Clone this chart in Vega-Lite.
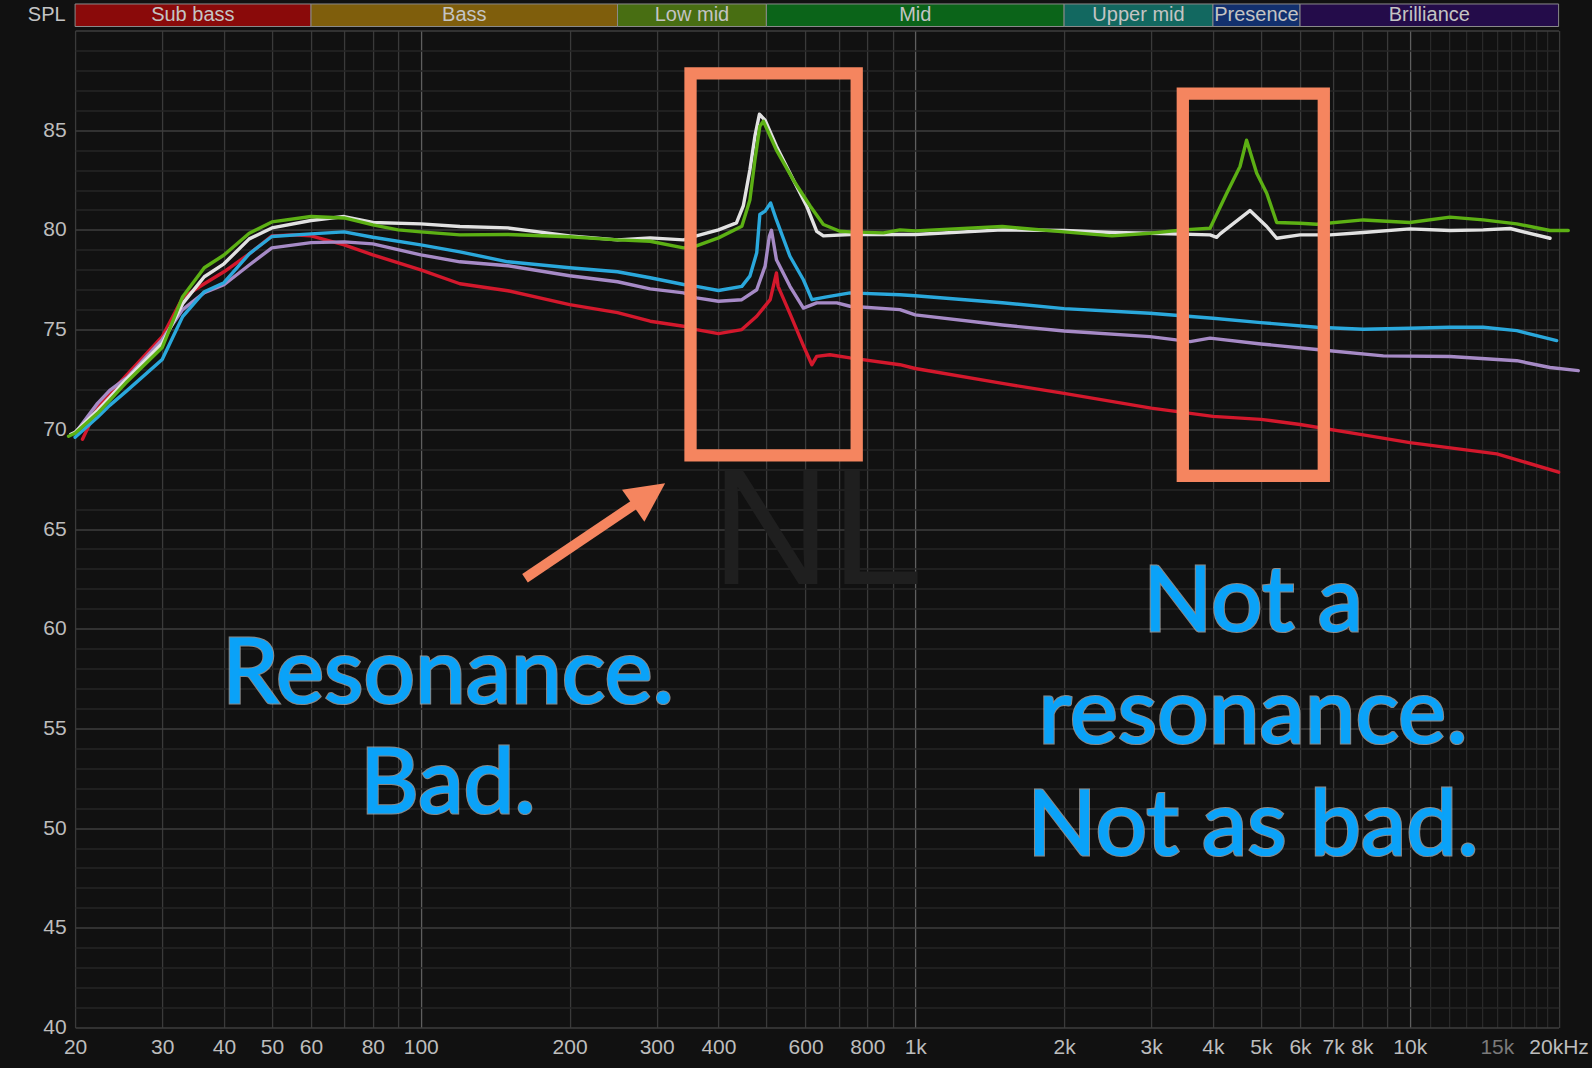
{
  "$schema": "https://vega.github.io/schema/vega-lite/v6.json",
  "width": 1483.5,
  "height": 997,
  "autosize": {"type": "none"},
  "padding": {"left": 75.1, "top": 30.5, "right": 33.4, "bottom": 40.5},
  "background": "#111111",
  "config": {
    "view": {"stroke": null, "fill": "#111111"},
    "text": {"font": "Liberation Sans"}
  },
  "datasets": {
    "one": [{}],
    "bands": [
      {"band": "Sub bass", "lo": 20, "hi": 60, "mid": 34.6},
      {"band": "Bass", "lo": 60, "hi": 250, "mid": 122.5},
      {"band": "Low mid", "lo": 250, "hi": 500, "mid": 353.6},
      {"band": "Mid", "lo": 500, "hi": 2000, "mid": 1000},
      {"band": "Upper mid", "lo": 2000, "hi": 4000, "mid": 2828},
      {"band": "Presence", "lo": 4000, "hi": 6000, "mid": 4899},
      {"band": "Brilliance", "lo": 6000, "hi": 20000, "mid": 10954}
    ],
    "notes": [
      {"label": "Resonance.", "freq": 113.5, "spl": 56.27},
      {"label": "Bad.", "freq": 113.5, "spl": 50.76},
      {"label": "Not a", "freq": 4820, "spl": 59.88},
      {"label": "resonance.", "freq": 4820, "spl": 54.27},
      {"label": "Not as bad.", "freq": 4820, "spl": 48.65}
    ],
    "curves": [
      {"s":"red","f":20.7,"v":69.5},{"s":"red","f":22.2,"v":71.1},{"s":"red","f":23.5,"v":71.8},{"s":"red","f":25.5,"v":72.75},{"s":"red","f":30,"v":74.64},{"s":"red","f":33,"v":76.6},{"s":"red","f":36.5,"v":77.3},{"s":"red","f":40,"v":77.9},{"s":"red","f":45,"v":78.8},{"s":"red","f":50,"v":79.7},{"s":"red","f":55,"v":79.75},{"s":"red","f":60,"v":79.7},{"s":"red","f":70,"v":79.25},{"s":"red","f":80,"v":78.75},{"s":"red","f":100,"v":78.0},{"s":"red","f":120,"v":77.3},{"s":"red","f":150,"v":76.95},{"s":"red","f":200,"v":76.25},{"s":"red","f":250,"v":75.85},{"s":"red","f":291,"v":75.42},{"s":"red","f":340,"v":75.17},{"s":"red","f":361,"v":75.0},{"s":"red","f":400,"v":74.8},{"s":"red","f":446,"v":75.0},{"s":"red","f":478,"v":75.67},{"s":"red","f":509,"v":76.5},{"s":"red","f":524,"v":77.84},{"s":"red","f":528,"v":77.17},{"s":"red","f":558,"v":75.8},{"s":"red","f":594,"v":74.2},{"s":"red","f":618,"v":73.24},{"s":"red","f":632,"v":73.66},{"s":"red","f":672,"v":73.74},{"s":"red","f":738,"v":73.58},{"s":"red","f":931,"v":73.24},{"s":"red","f":1000,"v":73.05},{"s":"red","f":1500,"v":72.3},{"s":"red","f":2000,"v":71.8},{"s":"red","f":3000,"v":71.06},{"s":"red","f":4000,"v":70.65},{"s":"red","f":5000,"v":70.5},{"s":"red","f":6000,"v":70.24},{"s":"red","f":8000,"v":69.73},{"s":"red","f":10000,"v":69.33},{"s":"red","f":15000,"v":68.77},{"s":"red","f":20000,"v":67.85},
      {"s":"purple","f":20,"v":69.8},{"s":"purple","f":22.2,"v":71.3},{"s":"purple","f":23.5,"v":71.95},{"s":"purple","f":25.5,"v":72.6},{"s":"purple","f":30,"v":74.5},{"s":"purple","f":33,"v":76.0},{"s":"purple","f":36.5,"v":76.85},{"s":"purple","f":40,"v":77.25},{"s":"purple","f":45,"v":78.24},{"s":"purple","f":50,"v":79.1},{"s":"purple","f":60,"v":79.36},{"s":"purple","f":70,"v":79.4},{"s":"purple","f":80,"v":79.3},{"s":"purple","f":100,"v":78.75},{"s":"purple","f":120,"v":78.4},{"s":"purple","f":150,"v":78.2},{"s":"purple","f":200,"v":77.7},{"s":"purple","f":250,"v":77.4},{"s":"purple","f":291,"v":77.04},{"s":"purple","f":340,"v":76.84},{"s":"purple","f":361,"v":76.59},{"s":"purple","f":400,"v":76.42},{"s":"purple","f":446,"v":76.5},{"s":"purple","f":478,"v":77.0},{"s":"purple","f":497,"v":78.18},{"s":"purple","f":507,"v":79.68},{"s":"purple","f":512,"v":79.98},{"s":"purple","f":524,"v":78.5},{"s":"purple","f":558,"v":77.17},{"s":"purple","f":594,"v":76.08},{"s":"purple","f":632,"v":76.34},{"s":"purple","f":694,"v":76.34},{"s":"purple","f":738,"v":76.17},{"s":"purple","f":931,"v":76.0},{"s":"purple","f":1000,"v":75.74},{"s":"purple","f":1500,"v":75.23},{"s":"purple","f":2000,"v":74.93},{"s":"purple","f":2984,"v":74.65},{"s":"purple","f":3596,"v":74.4},{"s":"purple","f":3946,"v":74.57},{"s":"purple","f":5000,"v":74.28},{"s":"purple","f":6484,"v":74.0},{"s":"purple","f":8842,"v":73.68},{"s":"purple","f":12060,"v":73.65},{"s":"purple","f":16460,"v":73.44},{"s":"purple","f":19216,"v":73.1},{"s":"purple","f":21920,"v":72.94},
      {"s":"blue","f":20,"v":69.6},{"s":"blue","f":22.2,"v":70.6},{"s":"blue","f":23.5,"v":71.2},{"s":"blue","f":25.5,"v":71.95},{"s":"blue","f":30,"v":73.5},{"s":"blue","f":33,"v":75.65},{"s":"blue","f":36.5,"v":76.9},{"s":"blue","f":40,"v":77.35},{"s":"blue","f":45,"v":78.8},{"s":"blue","f":50,"v":79.67},{"s":"blue","f":60,"v":79.8},{"s":"blue","f":70,"v":79.9},{"s":"blue","f":80,"v":79.63},{"s":"blue","f":100,"v":79.25},{"s":"blue","f":120,"v":78.9},{"s":"blue","f":150,"v":78.4},{"s":"blue","f":200,"v":78.1},{"s":"blue","f":250,"v":77.9},{"s":"blue","f":291,"v":77.6},{"s":"blue","f":340,"v":77.26},{"s":"blue","f":361,"v":77.17},{"s":"blue","f":400,"v":76.96},{"s":"blue","f":446,"v":77.17},{"s":"blue","f":463,"v":77.68},{"s":"blue","f":478,"v":78.85},{"s":"blue","f":485,"v":80.77},{"s":"blue","f":497,"v":80.94},{"s":"blue","f":510,"v":81.35},{"s":"blue","f":524,"v":80.5},{"s":"blue","f":558,"v":78.68},{"s":"blue","f":594,"v":77.5},{"s":"blue","f":618,"v":76.5},{"s":"blue","f":662,"v":76.64},{"s":"blue","f":738,"v":76.84},{"s":"blue","f":931,"v":76.75},{"s":"blue","f":1000,"v":76.7},{"s":"blue","f":1500,"v":76.35},{"s":"blue","f":2000,"v":76.05},{"s":"blue","f":2984,"v":75.82},{"s":"blue","f":4000,"v":75.57},{"s":"blue","f":5000,"v":75.35},{"s":"blue","f":6484,"v":75.12},{"s":"blue","f":8054,"v":75.02},{"s":"blue","f":10000,"v":75.07},{"s":"blue","f":12060,"v":75.12},{"s":"blue","f":14080,"v":75.12},{"s":"blue","f":16460,"v":74.95},{"s":"blue","f":19821,"v":74.45},
      {"s":"white","f":19.6,"v":69.75},{"s":"white","f":20,"v":69.85},{"s":"white","f":22.2,"v":70.95},{"s":"white","f":23.5,"v":71.6},{"s":"white","f":25.5,"v":72.55},{"s":"white","f":30,"v":74.3},{"s":"white","f":33,"v":76.3},{"s":"white","f":36.5,"v":77.65},{"s":"white","f":40,"v":78.3},{"s":"white","f":45,"v":79.55},{"s":"white","f":50,"v":80.1},{"s":"white","f":60,"v":80.47},{"s":"white","f":70,"v":80.67},{"s":"white","f":80,"v":80.37},{"s":"white","f":100,"v":80.3},{"s":"white","f":120,"v":80.17},{"s":"white","f":150,"v":80.1},{"s":"white","f":200,"v":79.7},{"s":"white","f":250,"v":79.5},{"s":"white","f":291,"v":79.6},{"s":"white","f":340,"v":79.5},{"s":"white","f":361,"v":79.7},{"s":"white","f":400,"v":80.0},{"s":"white","f":435,"v":80.35},{"s":"white","f":449,"v":81.2},{"s":"white","f":463,"v":83.0},{"s":"white","f":474,"v":84.7},{"s":"white","f":484,"v":85.8},{"s":"white","f":497,"v":85.5},{"s":"white","f":524,"v":84.2},{"s":"white","f":567,"v":82.5},{"s":"white","f":603,"v":81.2},{"s":"white","f":632,"v":79.93},{"s":"white","f":652,"v":79.7},{"s":"white","f":738,"v":79.77},{"s":"white","f":931,"v":79.77},{"s":"white","f":1000,"v":79.77},{"s":"white","f":1500,"v":80.0},{"s":"white","f":2000,"v":79.97},{"s":"white","f":2500,"v":79.87},{"s":"white","f":2984,"v":79.83},{"s":"white","f":3946,"v":79.75},{"s":"white","f":4070,"v":79.63},{"s":"white","f":4135,"v":79.8},{"s":"white","f":4752,"v":80.97},{"s":"white","f":5138,"v":80.17},{"s":"white","f":5382,"v":79.58},{"s":"white","f":6000,"v":79.75},{"s":"white","f":6898,"v":79.75},{"s":"white","f":8054,"v":79.87},{"s":"white","f":10000,"v":80.05},{"s":"white","f":12060,"v":79.97},{"s":"white","f":14080,"v":80.0},{"s":"white","f":15956,"v":80.07},{"s":"white","f":19216,"v":79.58},
      {"s":"green","f":19.4,"v":69.65},{"s":"green","f":20,"v":69.8},{"s":"green","f":22.2,"v":70.8},{"s":"green","f":23.5,"v":71.45},{"s":"green","f":25.5,"v":72.4},{"s":"green","f":30,"v":74.1},{"s":"green","f":33,"v":76.65},{"s":"green","f":36.5,"v":78.1},{"s":"green","f":40,"v":78.74},{"s":"green","f":45,"v":79.83},{"s":"green","f":50,"v":80.4},{"s":"green","f":60,"v":80.67},{"s":"green","f":70,"v":80.6},{"s":"green","f":80,"v":80.25},{"s":"green","f":90,"v":80.0},{"s":"green","f":100,"v":79.9},{"s":"green","f":120,"v":79.75},{"s":"green","f":150,"v":79.77},{"s":"green","f":200,"v":79.66},{"s":"green","f":250,"v":79.5},{"s":"green","f":291,"v":79.43},{"s":"green","f":340,"v":79.1},{"s":"green","f":361,"v":79.2},{"s":"green","f":400,"v":79.6},{"s":"green","f":446,"v":80.18},{"s":"green","f":463,"v":81.5},{"s":"green","f":474,"v":83.5},{"s":"green","f":485,"v":85.2},{"s":"green","f":493,"v":85.45},{"s":"green","f":524,"v":84.0},{"s":"green","f":567,"v":82.5},{"s":"green","f":613,"v":81.2},{"s":"green","f":652,"v":80.27},{"s":"green","f":704,"v":79.93},{"s":"green","f":738,"v":79.9},{"s":"green","f":862,"v":79.85},{"s":"green","f":931,"v":80.0},{"s":"green","f":1000,"v":79.95},{"s":"green","f":1500,"v":80.17},{"s":"green","f":2000,"v":79.9},{"s":"green","f":2500,"v":79.7},{"s":"green","f":2984,"v":79.83},{"s":"green","f":3484,"v":80.0},{"s":"green","f":3946,"v":80.08},{"s":"green","f":4265,"v":81.84},{"s":"green","f":4537,"v":83.18},{"s":"green","f":4678,"v":84.5},{"s":"green","f":4904,"v":82.84},{"s":"green","f":5138,"v":81.84},{"s":"green","f":5382,"v":80.37},{"s":"green","f":6000,"v":80.33},{"s":"green","f":6484,"v":80.28},{"s":"green","f":8054,"v":80.5},{"s":"green","f":10000,"v":80.37},{"s":"green","f":12060,"v":80.64},{"s":"green","f":14080,"v":80.5},{"s":"green","f":16460,"v":80.3},{"s":"green","f":19216,"v":79.97},{"s":"green","f":20920,"v":79.97}
    ]
  },
  "layer": [
    {
      "data": {"name": "curves"},
      "mark": {"type": "line", "strokeWidth": 3.4, "strokeCap": "round", "strokeJoin": "round"},
      "encoding": {
        "x": {
          "field": "f", "type": "quantitative",
          "scale": {"type": "log", "domain": [20, 20000], "nice": false},
          "axis": {
            "title": null,
            "orient": "bottom",
            "tickCount": 1000,
            "values": [20,30,40,50,60,70,80,90,100,200,300,400,500,600,700,800,900,1000,2000,3000,4000,5000,6000,7000,8000,9000,10000,11000,12000,13000,14000,15000,16000,17000,18000,19000,20000],
            "labelExpr": "indexof([20,30,40,50,60,80,100,200,300,400,600,800], datum.value) >= 0 ? '' + datum.value : (indexof([1000,2000,3000,4000,5000,6000,7000,8000,10000,15000], datum.value) >= 0 ? (datum.value / 1000) + 'k' : (datum.value == 20000 ? '20kHz' : ''))",
            "labelOverlap": false, "labelFlush": false, "labelBound": false,
            "labelFont": "Liberation Sans", "labelFontSize": 21, "labelPadding": 9,
            "labelColor": {"condition": {"test": "datum.value == 15000", "value": "#7a7a7a"}, "value": "#bdbdbd"},
            "ticks": false, "tickSize": 0, "domain": false,
            "grid": true,
            "gridColor": {"condition": {"test": "datum.value == 100 || datum.value == 1000 || datum.value == 10000", "value": "#5e5e5e"}, "value": "#3a3a3a"},
            "gridOpacity": {"condition": {"test": "datum.value > 10000 && datum.value < 20000", "value": 0.6}, "value": 1},
            "gridWidth": 1.3
          }
        },
        "y": {
          "field": "v", "type": "quantitative",
          "scale": {"domain": [40, 90], "nice": false, "zero": false},
          "axis": {
            "title": "SPL", "titleAngle": 0, "titleAlign": "right", "titleBaseline": "middle",
            "titleX": -10, "titleY": -16, "titleFont": "Liberation Sans", "titleFontSize": 20,
            "titleFontWeight": "normal", "titleColor": "#c4c4c4",
            "tickCount": 1000,
            "values": [40,41,42,43,44,45,46,47,48,49,50,51,52,53,54,55,56,57,58,59,60,61,62,63,64,65,66,67,68,69,70,71,72,73,74,75,76,77,78,79,80,81,82,83,84,85,86,87,88,89,90],
            "labelExpr": "datum.value % 5 == 0 && datum.value < 90 ? '' + datum.value : ''",
            "labelOverlap": false, "labelFlush": false, "labelBound": false,
            "labelFont": "Liberation Sans", "labelFontSize": 21, "labelPadding": 9, "labelColor": "#bdbdbd",
            "ticks": false, "tickSize": 0, "domain": false,
            "grid": true,
            "gridColor": {"condition": {"test": "datum.value % 5 == 0", "value": "#3e3e3e"}, "value": "#262626"},
            "gridWidth": 1.3
          }
        },
        "stroke": {
          "field": "s", "type": "nominal", "legend": null,
          "scale": {"domain": ["red", "purple", "blue", "white", "green"], "range": ["#d3182c", "#a68ac6", "#2aa8dc", "#e2e2e2", "#5cb014"]}
        },
        "order": {"field": "f", "type": "quantitative"}
      }
    },
    {
      "data": {"name": "bands"},
      "mark": {"type": "rect", "stroke": "#8a8a8a", "strokeWidth": 1},
      "encoding": {
        "x": {"field": "lo", "type": "quantitative"},
        "x2": {"field": "hi"},
        "y": {"datum": 91.33},
        "y2": {"datum": 90.2},
        "fill": {
          "field": "band", "type": "nominal", "legend": null,
          "scale": {"domain": ["Sub bass", "Bass", "Low mid", "Mid", "Upper mid", "Presence", "Brilliance"], "range": ["#8a0a0a", "#7f5e0c", "#486e12", "#0b6419", "#126860", "#12306e", "#240c4a"]}
        }
      }
    },
    {
      "data": {"name": "bands"},
      "mark": {"type": "text", "font": "Liberation Sans", "fontSize": 20, "color": "#c4c4c4", "baseline": "middle", "align": "center"},
      "encoding": {
        "x": {"field": "mid", "type": "quantitative"},
        "y": {"datum": 90.76},
        "text": {"field": "band"}
      }
    },
    {
      "data": {"name": "one"},
      "mark": {"type": "text", "font": "Liberation Sans", "fontSize": 166, "color": "#1f1f1f", "baseline": "alphabetic", "align": "center"},
      "encoding": {"x": {"datum": 633}, "y": {"datum": 62.24}, "text": {"value": "NL"}}
    },
    {
      "data": {"name": "one"},
      "mark": {"type": "rect", "fillOpacity": 0, "stroke": "#f5855f", "strokeWidth": 12.3},
      "encoding": {"x": {"datum": 351.2}, "x2": {"datum": 761.4}, "y": {"datum": 87.85}, "y2": {"datum": 68.69}}
    },
    {
      "data": {"name": "one"},
      "mark": {"type": "rect", "fillOpacity": 0, "stroke": "#f5855f", "strokeWidth": 12.3},
      "encoding": {"x": {"datum": 3476}, "x2": {"datum": 6702}, "y": {"datum": 86.83}, "y2": {"datum": 67.66}}
    },
    {
      "data": {"name": "one"},
      "mark": {"type": "rule", "color": "#f5855f", "strokeWidth": 10, "strokeCap": "butt"},
      "encoding": {"x": {"datum": 162.5}, "y": {"datum": 62.53}, "x2": {"datum": 275}, "y2": {"datum": 66.35}}
    },
    {
      "data": {"name": "one"},
      "mark": {"type": "point", "shape": "M0,-1L1,1L-1,1Z", "filled": true, "color": "#f5855f", "opacity": 1, "size": 1521, "angle": 55, "strokeWidth": 0},
      "encoding": {"x": {"datum": 289.7}, "y": {"datum": 66.73}}
    },
    {
      "data": {"name": "notes"},
      "mark": {"type": "text", "font": "Lato", "fontSize": 91, "color": "#0aa2f8", "stroke": "#c8c8c8", "strokeWidth": 3.2, "strokeOpacity": 0.65, "align": "center", "baseline": "alphabetic"},
      "encoding": {
        "x": {"field": "freq", "type": "quantitative"},
        "y": {"field": "spl", "type": "quantitative"},
        "text": {"field": "label"}
      }
    },
    {
      "data": {"name": "notes"},
      "mark": {"type": "text", "font": "Lato", "fontSize": 91, "color": "#0aa2f8", "stroke": "#0aa2f8", "strokeWidth": 1.2, "align": "center", "baseline": "alphabetic"},
      "encoding": {
        "x": {"field": "freq", "type": "quantitative"},
        "y": {"field": "spl", "type": "quantitative"},
        "text": {"field": "label"}
      }
    }
  ]
}
